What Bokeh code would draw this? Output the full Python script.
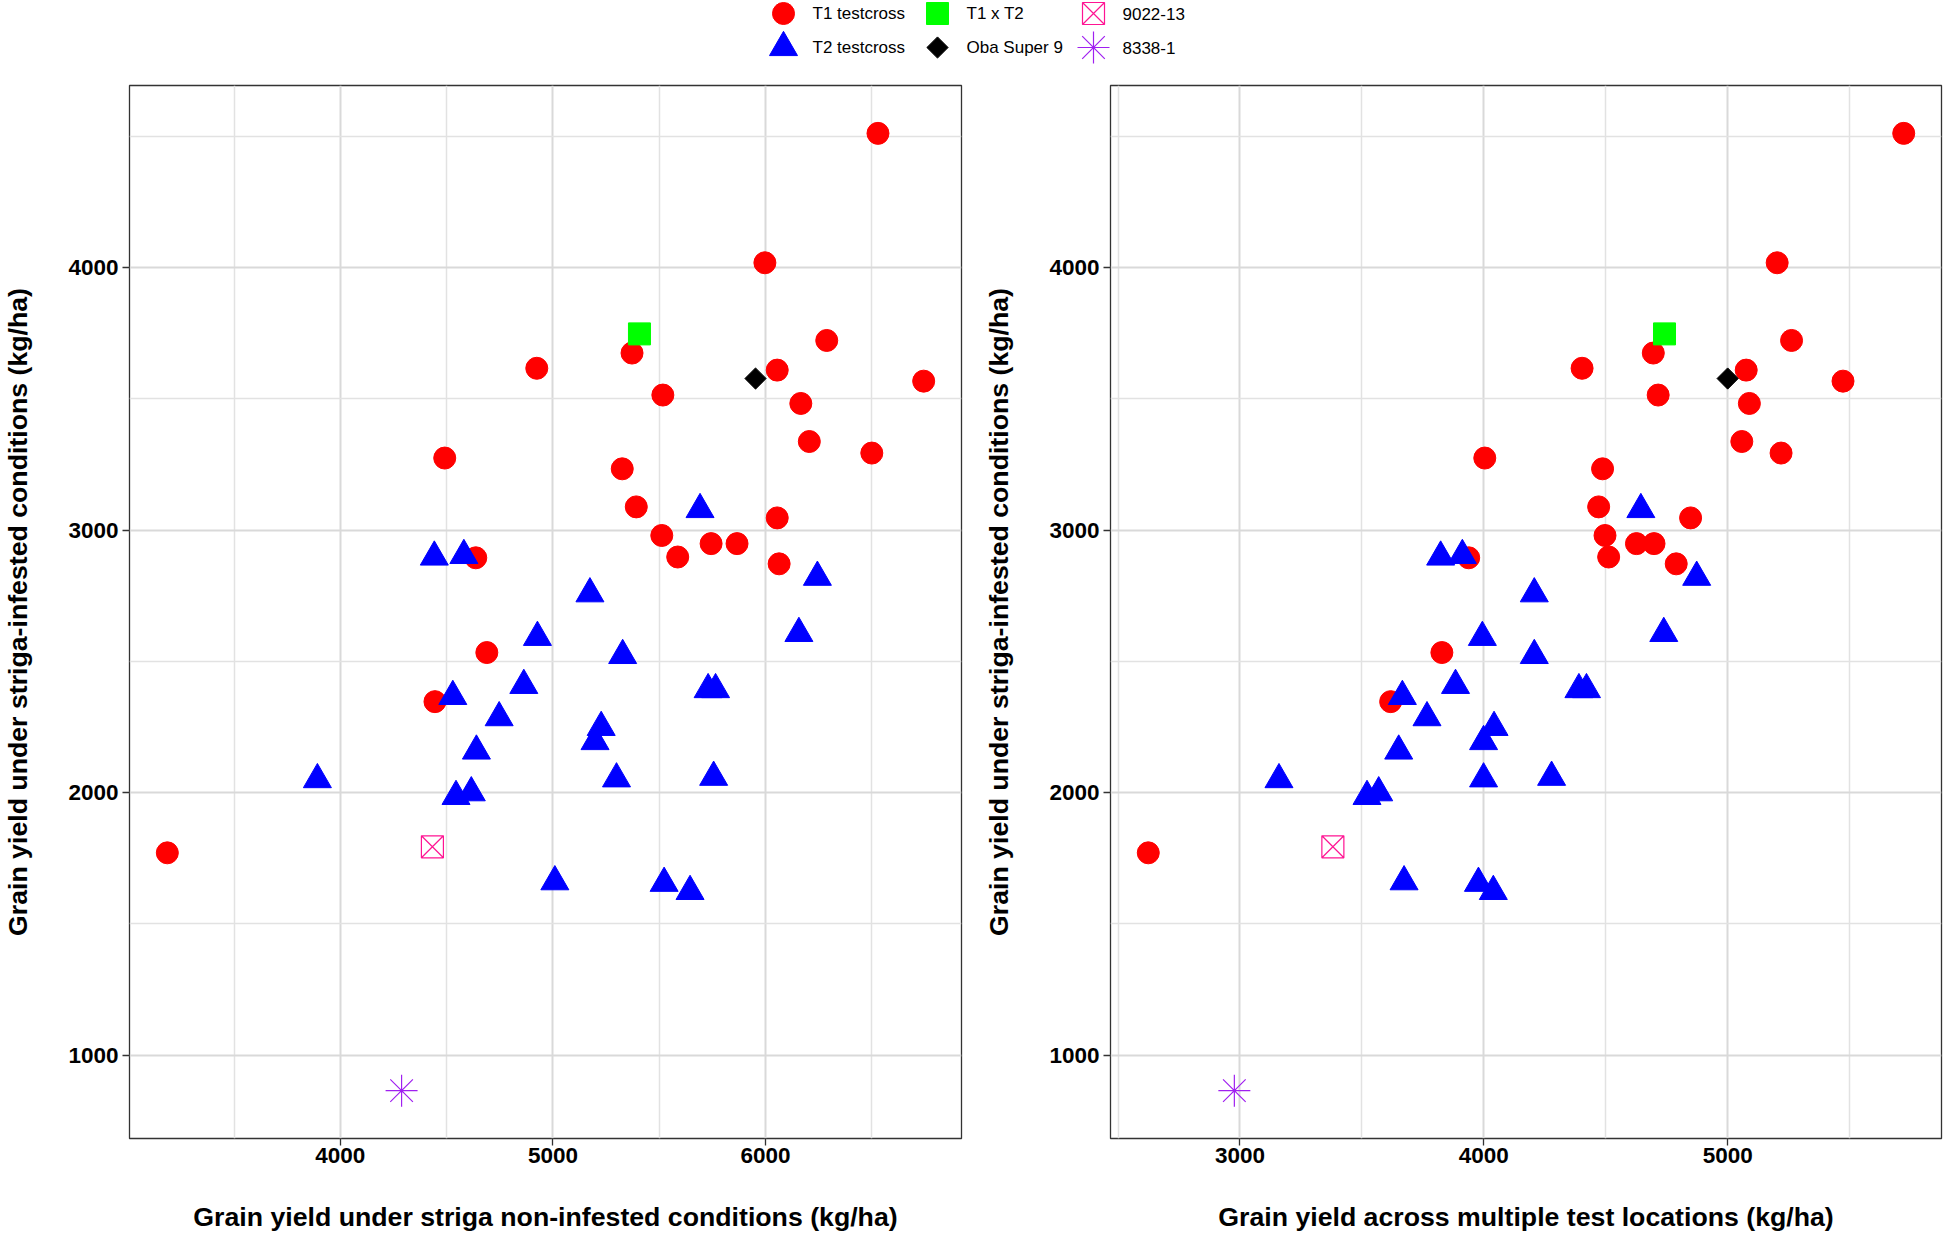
import numpy as np
from bokeh.plotting import figure
from bokeh.layouts import column, row
from bokeh.models import Range1d, FixedTicker
from bokeh.embed import file_html
from bokeh.resources import INLINE
from bokeh.core.properties import value

# ---------------- data (kg/ha) ----------------
group_names = ["T1 testcross", "T2 testcross", "T1 x T2", "Oba Super 9", "9022-13", "8338-1"]

t1_non_infested = [6529, 5997, 6288, 6744, 6055, 6166, 6206, 6500, 5372, 5517, 4924, 4491,
                   5326, 5392, 5512, 5744, 5866, 6055, 5587, 6064, 4637, 4689, 4445, 3186]
t1_across = [5722, 5203, 5262, 5473, 5076, 5089, 5058, 5219, 4695, 4715, 4403, 4004,
             4487, 4471, 4497, 4626, 4698, 4848, 4512, 4789, 3938, 3828, 3618, 2624]
t1_infested = [4512, 4019, 3723, 3568, 3610, 3483, 3338, 3294, 3675, 3515, 3617, 3275,
               3234, 3089, 2980, 2949, 2949, 3047, 2898, 2872, 2895, 2534, 2347, 1771]

t2_non_infested = [5692, 4442, 4581, 5174, 6244, 6157, 4927, 5328, 4863, 4529, 5730, 5765,
                   4747, 5227, 5198, 4640, 3892, 5299, 5756, 4544, 4616, 5009, 5523, 5645]
t2_across = [4644, 3823, 3912, 4207, 4873, 4738, 3994, 4207, 3884, 3666, 4390, 4421,
             3767, 4042, 3999, 3651, 3160, 3999, 4278, 3521, 3569, 3673, 3978, 4039]
t2_infested = [3079, 2898, 2904, 2758, 2821, 2607, 2592, 2523, 2409, 2367, 2393, 2393,
               2286, 2249, 2195, 2159, 2050, 2053, 2059, 1986, 2000, 1661, 1655, 1624]

t1xt2_non_infested = [5407]
t1xt2_across = [4741]
t1xt2_infested = [3748]

oba_non_infested = [5953]
oba_across = [5000]
oba_infested = [3578]

c9022_non_infested = [4433]
c9022_across = [3381]
c9022_infested = [1794]

c8338_non_infested = [4288]
c8338_across = [2977]
c8338_infested = [865]

left_x_ticks = [4000, 5000, 6000]
left_x_minor = [3500, 4500, 5500, 6500]
right_x_ticks = [3000, 4000, 5000]
right_x_minor = [2500, 3500, 4500, 5500]
y_ticks = [1000, 2000, 3000, 4000]
y_minor = [1500, 2500, 3500, 4500]

non_infested = {"T1 testcross": t1_non_infested, "T2 testcross": t2_non_infested,
                "T1 x T2": t1xt2_non_infested, "Oba Super 9": oba_non_infested,
                "9022-13": c9022_non_infested, "8338-1": c8338_non_infested}
across = {"T1 testcross": t1_across, "T2 testcross": t2_across,
          "T1 x T2": t1xt2_across, "Oba Super 9": oba_across,
          "9022-13": c9022_across, "8338-1": c8338_across}
infested = {"T1 testcross": t1_infested, "T2 testcross": t2_infested,
            "T1 x T2": t1xt2_infested, "Oba Super 9": oba_infested,
            "9022-13": c9022_infested, "8338-1": c8338_infested}

# ---------------- styles ----------------
styles = {
    "T1 testcross": dict(marker="circle", size=22, fill_color="#FF0000", line_color="#FF0000", line_width=1),
    "T2 testcross": dict(marker="triangle", size=28, fill_color="#0000FF", line_color="#0000FF", line_width=1),
    "T1 x T2": dict(marker="square", size=22, fill_color="#00FF00", line_color="#00FF00", line_width=1),
    "Oba Super 9": dict(marker="square", size=15, angle=np.pi / 4, fill_color="#000000",
                        line_color="#000000", line_width=1),
    "9022-13": dict(marker="square_x", size=22, fill_color=None, line_color="#FF1493", line_width=1.2),
    "8338-1": dict(marker="asterisk", size=32, line_color="#A020F0", line_width=1.2),
}

FONT = "Liberation Sans"


def expanded(vals):
    lo, hi = min(vals), max(vals)
    pad = 0.05 * (hi - lo)
    return Range1d(lo - pad, hi + pad)


all_y = [v for g in group_names for v in infested[g]]

LEG_H = 66


def make_panel(xdata, x_label, xt, xm, frame_w, border_right):
    all_x = [v for g in group_names for v in xdata[g]]
    p = figure(frame_width=frame_w, frame_height=1053,
               x_range=expanded(all_x), y_range=expanded(all_y),
               output_backend="svg", toolbar_location=None,
               min_border_left=129, min_border_right=border_right,
               min_border_top=85 - LEG_H, min_border_bottom=99,
               background_fill_color="white", border_fill_color="white")
    p.outline_line_color = "#333333"
    p.outline_line_width = 1.3

    xticker = FixedTicker(ticks=xt, minor_ticks=xm)
    yticker = FixedTicker(ticks=y_ticks, minor_ticks=y_minor)
    p.xaxis.ticker = xticker
    p.yaxis.ticker = yticker
    p.xgrid.ticker = xticker
    p.ygrid.ticker = yticker

    for g in (p.xgrid[0], p.ygrid[0]):
        g.grid_line_color = "#D9D9D9"
        g.grid_line_width = 2
        g.minor_grid_line_color = "#E2E2E2"
        g.minor_grid_line_width = 1.5

    for ax in (p.xaxis[0], p.yaxis[0]):
        ax.axis_line_color = None
        ax.major_tick_line_color = "#333333"
        ax.major_tick_line_width = 1.3
        ax.major_tick_out = 7
        ax.major_tick_in = 0
        ax.minor_tick_line_color = None
        ax.major_label_text_font = FONT
        ax.major_label_text_font_style = "bold"
        ax.major_label_text_font_size = "22.5px"
        ax.major_label_text_color = "#000000"
        ax.axis_label_text_font = FONT
        ax.axis_label_text_font_style = "bold"
        ax.axis_label_text_font_size = "26.7px"
        ax.axis_label_text_color = "#000000"
    p.xaxis.major_label_standoff = 2
    p.yaxis.major_label_standoff = 4
    p.xaxis.axis_label_standoff = 36
    p.yaxis.axis_label_standoff = 32
    p.yaxis.axis_label_text_line_height = 1.0
    p.xaxis.axis_label = x_label
    p.yaxis.axis_label = "Grain yield under striga-infested conditions (kg/ha)"

    for g in group_names:
        st = dict(styles[g])
        p.scatter(x=xdata[g], y=infested[g], **st)
    return p


left = make_panel(non_infested, "Grain yield under striga non-infested conditions (kg/ha)",
                  left_x_ticks, left_x_minor, 832, 20)
right = make_panel(across, "Grain yield across multiple test locations (kg/ha)",
                   right_x_ticks, right_x_minor, 831, 2)

# ---------------- legend strip ----------------
LW = 1943
lg = figure(width=LW, height=LEG_H, x_range=Range1d(0, LW), y_range=Range1d(LEG_H, 0),
            output_backend="svg", toolbar_location=None, min_border=0,
            x_axis_location=None, y_axis_location=None,
            background_fill_color="white", border_fill_color="white")
lg.outline_line_color = None
lg.grid.visible = False

legend_columns = [["T1 testcross", "T2 testcross"], ["T1 x T2", "Oba Super 9"], ["9022-13", "8338-1"]]
col_x = [783, 937, 1093]
row_y = [13, 47]
label_gap = 29
for ci, col in enumerate(legend_columns):
    for ri, g in enumerate(col):
        lg.scatter(x=[col_x[ci]], y=[row_y[ri]], **styles[g])
        lg.text(x=[col_x[ci] + label_gap], y=[row_y[ri]], text=[g],
                text_font=value(FONT), text_font_size="17px", text_color="#000000",
                text_baseline="middle", text_align="left")

layout = column(lg, row(left, right))
open("out.html", "w").write(file_html(layout, INLINE))
